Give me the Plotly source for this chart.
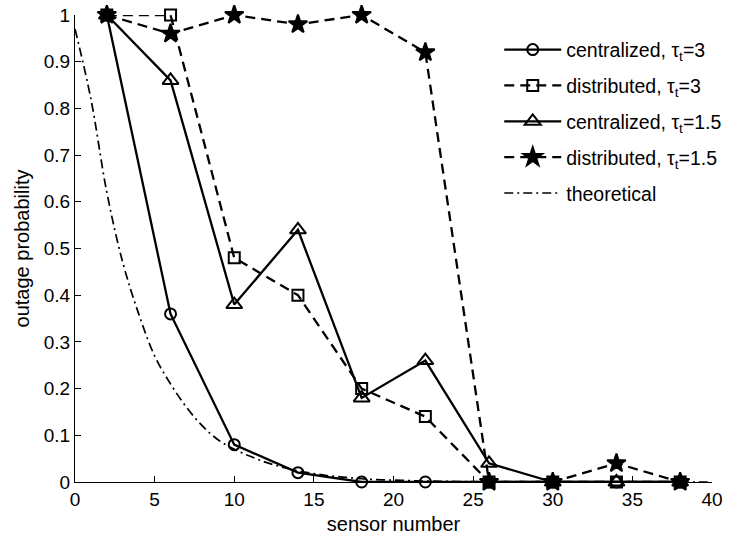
import plotly.graph_objects as go

sensors = [2, 6, 10, 14, 18, 22, 26, 30, 34, 38]
cent_3 = [1.0, 0.36, 0.08, 0.02, 0.0, 0.0, 0.0, 0.0, 0.0, 0.0]
dist_3 = [1.0, 1.0, 0.48, 0.40, 0.20, 0.14, 0.0, 0.0, 0.0, 0.0]
cent_15 = [1.0, 0.86, 0.38, 0.54, 0.18, 0.26, 0.04, 0.0, 0.0, 0.0]
dist_15 = [1.0, 0.96, 1.0, 0.98, 1.0, 0.92, 0.0, 0.0, 0.04, 0.0]

theo_x = list(range(0, 41))
theo_y = [0.97, 0.82, 0.62, 0.47, 0.36, 0.27, 0.21, 0.16, 0.12, 0.09,
          0.07, 0.055, 0.042, 0.032, 0.024, 0.018, 0.013, 0.010, 0.007, 0.005,
          0.004, 0.003, 0.002, 0.0015, 0.001, 0.001, 0.0, 0.0, 0.0, 0.0,
          0.0, 0.0, 0.0, 0.0, 0.0, 0.0, 0.0, 0.0, 0.0, 0.0, 0.0]

names = ["centralized, τ<sub>t</sub>=3", "distributed, τ<sub>t</sub>=3",
         "centralized, τ<sub>t</sub>=1.5", "distributed, τ<sub>t</sub>=1.5",
         "theoretical"]

fig = go.Figure()
specs = [
    (cent_3, "solid", "circle-open", 11),
    (dist_3, "10px,6px", "square-open", 11),
    (cent_15, "solid", "triangle-up-open", 14),
    (dist_15, "10px,6px", "star", 14),
]
for i, (ys, dash, sym, size) in enumerate(specs):
    fig.add_trace(go.Scatter(
        x=sensors, y=ys, mode="lines+markers", name=names[i],
        legendgroup=f"g{i}",
        line=dict(color="black", width=2.3, dash=dash),
        marker=dict(symbol=sym, size=size, color="black",
                    line=dict(color="black", width=2)),
        cliponaxis=False,
    ))
fig.add_trace(go.Scatter(
    x=theo_x, y=theo_y, mode="lines", name=names[4], legendgroup="g4",
    line=dict(color="black", width=1.7, dash="9px,4px,2px,4px"),
    line_shape="spline", cliponaxis=False,
))

fig.update_layout(
    width=745, height=538,
    margin=dict(l=75, r=33, t=15, b=56, autoexpand=False),
    plot_bgcolor="white", paper_bgcolor="white",
    font=dict(family="Liberation Sans, Arial", size=19, color="black"),
    showlegend=True,
    legend=dict(x=0.666, y=0.967, xanchor="left", yanchor="top",
                bgcolor="rgba(0,0,0,0)", borderwidth=0, itemwidth=57,
                font=dict(size=19.5), tracegroupgap=7.5, traceorder="grouped"),
)
fig.update_xaxes(range=[0, 40], dtick=5, tick0=0, showline=True, linecolor="black",
                 linewidth=1, ticks="inside", ticklen=6, tickcolor="black",
                 showgrid=False, zeroline=False, mirror=False, automargin=False,
                 tickfont=dict(size=19),
                 title=dict(text="sensor number", standoff=8, font=dict(size=20)))
fig.update_yaxes(range=[0, 1], dtick=0.1, tick0=0, showline=True, linecolor="black",
                 linewidth=1, ticks="inside", ticklen=6, tickcolor="black",
                 showgrid=False, zeroline=False, mirror=False, automargin=False,
                 tickfont=dict(size=19),
                 title=dict(text="outage probability", standoff=8, font=dict(size=20)))

fig.write_html("out.html")
